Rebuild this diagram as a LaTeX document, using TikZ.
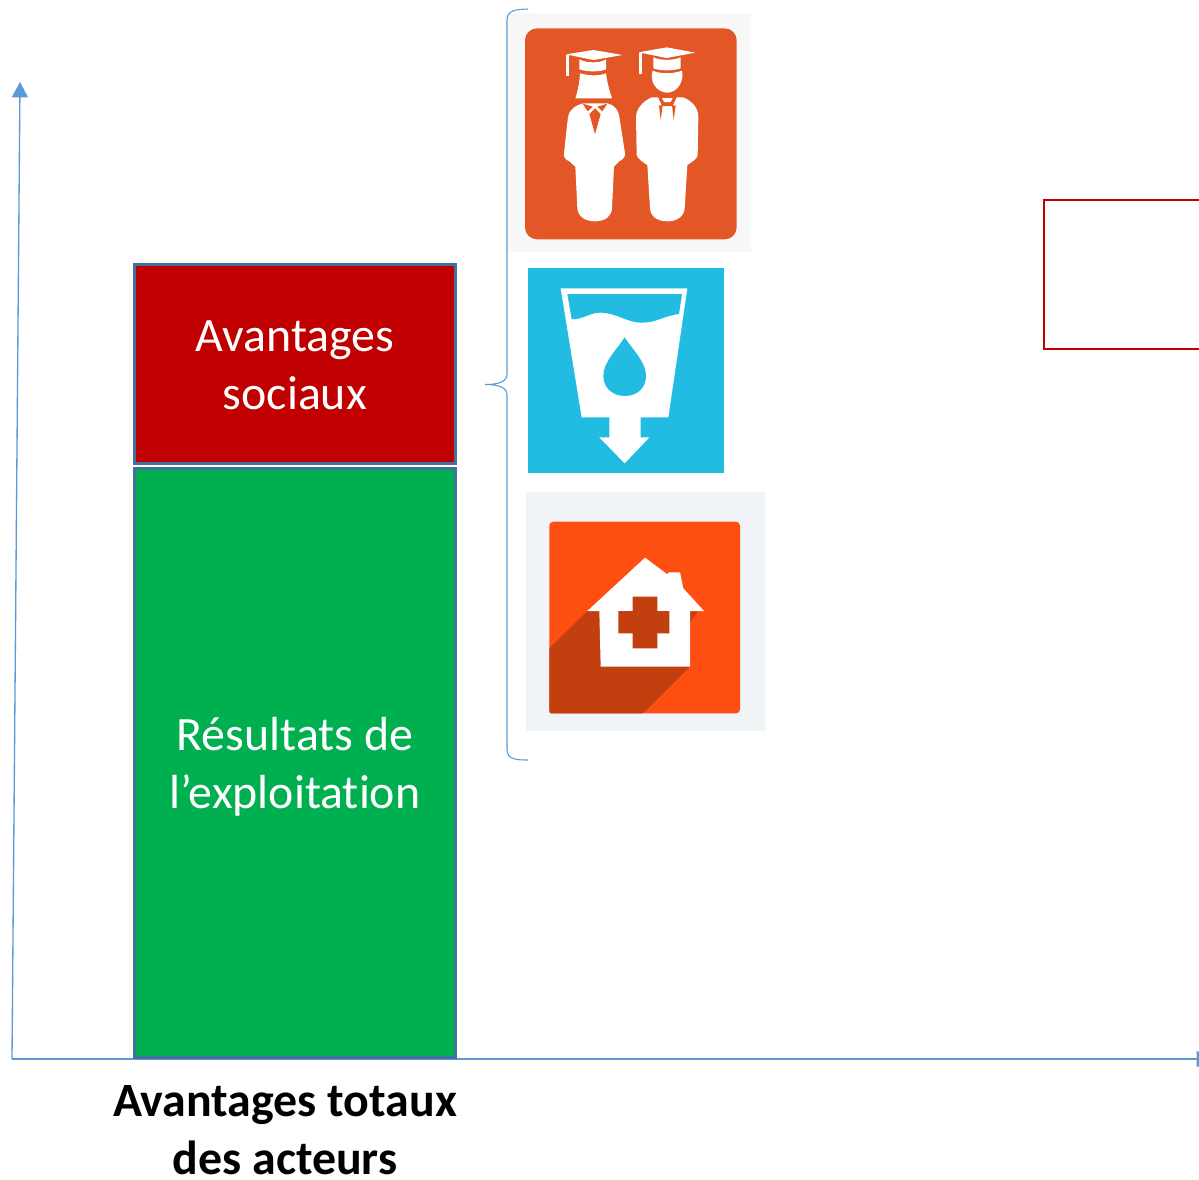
\documentclass[tikz,border=0pt]{standalone}
\usepackage{fontspec}
\setmainfont[Ligatures=NoCommon]{Carlito}
\usetikzlibrary{arrows.meta}
\definecolor{axisblue}{HTML}{5B9BD5}
\definecolor{barborder}{HTML}{41719C}
\definecolor{barred}{HTML}{C00000}
\definecolor{bargreen}{HTML}{00B050}
\definecolor{boxred}{HTML}{C00000}
\definecolor{gradorange}{HTML}{E25725}
\definecolor{gradbg}{HTML}{F8F8F8}
\definecolor{waterblue}{HTML}{22BBE2}
\definecolor{housebg}{HTML}{F1F4F6}
\definecolor{houseorange}{HTML}{FF4E12}
\definecolor{houseshadow}{HTML}{C23F10}
\tikzset{
  axisline/.style={draw=axisblue,line width=1pt,-{Triangle[length=11.5pt,width=12pt,fill=axisblue]}},
  barbox/.style={draw=barborder,line width=2.25pt,minimum width=240.6pt,inner sep=0pt,outer sep=0pt,text=white,align=center,
    font=\fontsize{35.9}{43.5}\selectfont},
  bracket/.style={draw=axisblue,line width=0.8pt},
  axislabel/.style={align=center,inner sep=0pt,font=\fontsize{35.9}{43.5}\selectfont\bfseries},
  emptybox/.style={draw=boxred,line width=1.3pt},
}
\begin{document}
\begin{tikzpicture}[x=0.75pt,y=-0.75pt]
\useasboundingbox (0,0) rectangle (1199,1179);
% axes
\coordinate (origin) at (12,1059);
\coordinate (ytop) at (20,82);
\coordinate (xend) at (1212,1059);
\draw[axisline] (origin) -- (ytop);
\draw[axisline] (origin) -- (xend);
% bars
\node[barbox,fill=bargreen,minimum height=442.1pt] (result) at (294.9,762.75) {\rule{0pt}{31pt}Résultats de\\l’exploitation};
\node[barbox,fill=barred,minimum height=149.6pt] (social) at (294.9,363.75) {\rule{0pt}{26pt}Avantages\\sociaux};
\node[axislabel] (total) at (285,1130) {Avantages totaux\\des acteurs};
% empty red box
\coordinate (boxa) at (1044,200);
\coordinate (boxb) at (1215,349);
\draw[emptybox] (boxa) rectangle (boxb);
% graduates icon (zoom coordinates)
\fill[gradbg] (505,13) rectangle (751,252);
\begin{scope}[shift={(510,0)},x=0.25pt,y=-0.25pt]
  \fill[gradorange,rounded corners=9pt] (45,85) rectangle (680,718);
  % woman
  \fill[white] (168,163) -- (250,150) -- (338,165) -- (250,180) -- cycle;
  \fill[white] (168,165) rectangle (177,228);
  \fill[white] (208,178) .. controls (230,190) and (270,190) .. (288,178) -- (288,208)
     .. controls (270,216) and (230,216) .. (208,208) -- cycle;
  \fill[white] (210,220) .. controls (240,228) and (265,228) .. (288,220)
     .. controls (292,250) and (298,270) .. (306,295) -- (196,295)
     .. controls (204,270) and (208,250) .. (210,220) -- cycle;
  \fill[white] (220,310) -- (292,310) .. controls (315,316) and (325,330) .. (328,350)
     -- (345,460) .. controls (346,472) and (338,478) .. (328,484)
     -- (312,500) -- (306,625) .. controls (304,650) and (285,664) .. (255,664)
     .. controls (225,664) and (205,650) .. (202,625)
     -- (196,500) -- (178,484) .. controls (166,478) and (160,472) .. (162,460)
     -- (174,350) .. controls (178,330) and (195,316) .. (220,310) -- cycle;
  \fill[gradorange] (238,342) -- (255,325) -- (272,342) -- (255,402) -- cycle;
  \fill[gradorange] (218,311) -- (248,320) -- (233,334) -- cycle;
  \fill[gradorange] (292,311) -- (262,320) -- (277,334) -- cycle;
  % man
  \fill[white] (386,157) -- (470,142) -- (556,158) -- (470,174) -- cycle;
  \fill[white] (386,158) rectangle (395,222);
  \fill[white] (430,172) .. controls (450,182) and (490,182) .. (512,172) -- (512,205)
     .. controls (490,213) and (450,213) .. (430,205) -- cycle;
  \fill[white] (428,212) .. controls (450,222) and (490,222) .. (516,212)
     .. controls (524,245) and (500,278) .. (472,278) .. controls (442,278) and (416,245) .. (428,212) -- cycle;
  \fill[white] (425,292) -- (520,292) .. controls (548,304) and (565,325) .. (565,350)
     -- (563,465) .. controls (560,478) and (548,484) .. (532,495)
     -- (524,625) .. controls (522,650) and (500,664) .. (472,664)
     .. controls (442,664) and (422,650) .. (420,625) -- (412,495)
     .. controls (396,484) and (384,478) .. (380,465)
     -- (378,350) .. controls (380,325) and (398,304) .. (425,292) -- cycle;
  \fill[gradorange] (444,291) -- (500,291) -- (488,318) -- (456,318) -- cycle;
  \fill[white] (456,294) -- (488,294) -- (482,306) -- (462,306) -- cycle;
  \fill[gradorange] (447,316) -- (458,316) -- (452,360) -- cycle;
  \fill[gradorange] (486,316) -- (497,316) -- (491,360) -- cycle;
\end{scope}
% water icon
\begin{scope}[shift={(510,260)},x=0.25pt,y=-0.25pt]
  \fill[waterblue] (54,24) rectangle (642,638);
  \fill[white] (152,85) -- (532,85) -- (475,472) -- (392,472) -- (392,532) -- (418,532)
     -- (344,610) -- (268,532) -- (298,532) -- (298,472) -- (215,472) -- cycle;
  \fill[waterblue] (172,102) -- (516,102) -- (507,162)
     .. controls (460,168) and (440,188) .. (395,188)
     .. controls (350,188) and (320,158) .. (270,158)
     .. controls (240,158) and (220,178) .. (185,178) -- cycle;
  \fill[waterblue] (344,232) .. controls (320,270) and (280,305) .. (280,348)
     .. controls (280,385) and (310,408) .. (344,408)
     .. controls (380,408) and (408,385) .. (408,348)
     .. controls (408,305) and (368,270) .. (344,232) -- cycle;
\end{scope}
% health icon
\fill[housebg] (526,492) rectangle (765,731);
\begin{scope}[shift={(510,485)},x=0.25pt,y=-0.25pt]
  \fill[houseorange,rounded corners=3pt] (118,110) rectangle (690,685);
  \fill[houseshadow,rounded corners=1pt] (232,378) -- (565,378) -- (540,410) -- (540,545) -- (400,685) -- (125,685)
     .. controls (120,685) and (118,680) .. (118,675) -- (118,490) -- cycle;
  \fill[white] (405,218) -- (472,268) -- (476,262) -- (510,262) -- (520,310) -- (582,378)
     -- (540,378) -- (540,545) -- (272,545) -- (268,378) -- (232,378) -- cycle;
  \fill[houseshadow] (368,335) -- (442,335) -- (442,378) -- (478,378) -- (478,445) -- (442,445) -- (442,490)
     -- (368,490) -- (368,445) -- (325,445) -- (325,378) -- (368,378) -- cycle;
\end{scope}
% brace
\coordinate (bracetop) at (528,9);
\coordinate (bracetip) at (485,384.5);
\coordinate (bracebot) at (528,760);
\draw[bracket] (bracetop) .. controls (515,9.5) and (507,10) .. (507,21)
  -- (507,374) .. controls (507,381) and (500,384.5) .. (bracetip)
  .. controls (500,384.5) and (507,388) .. (507,395)
  -- (507,749) .. controls (507,759) and (515,760) .. (bracebot);
\end{tikzpicture}
\end{document}
